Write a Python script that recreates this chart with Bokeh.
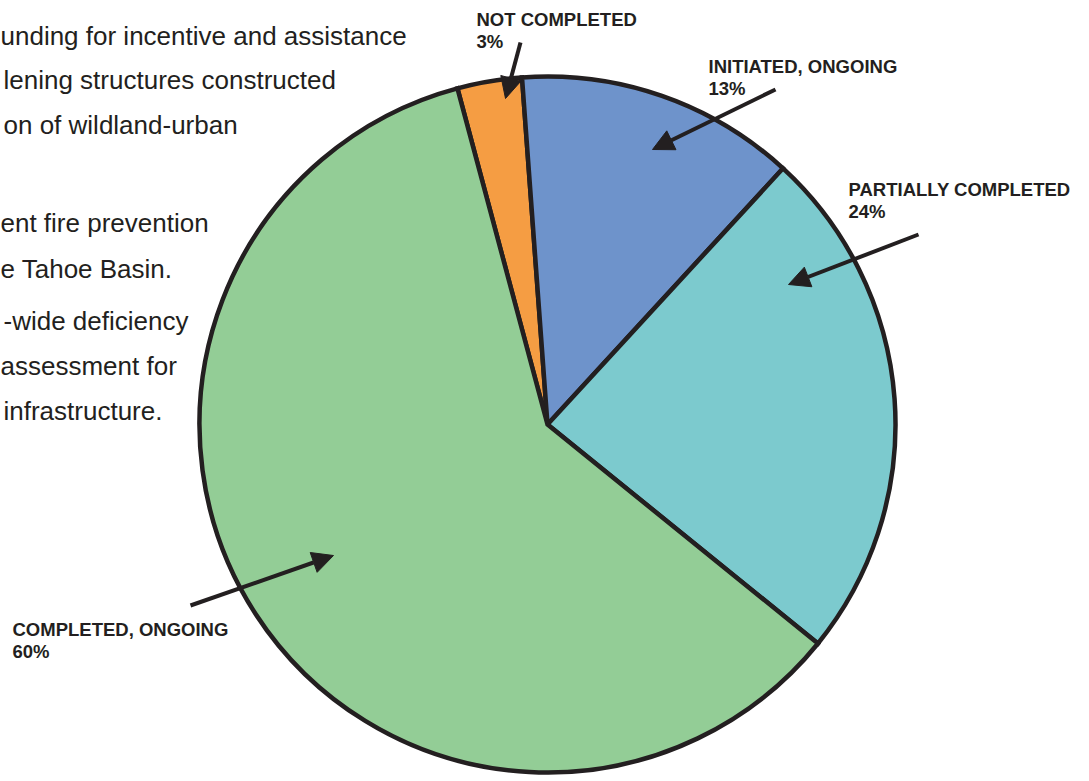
from bokeh.plotting import figure
from bokeh.models import Range1d, Arrow, NormalHead
from bokeh.core.properties import value
from bokeh.embed import file_html
from bokeh.resources import INLINE
import numpy as np

# Status of implementation measures (share of total, %)
statuses = ["NOT COMPLETED", "INITIATED, ONGOING", "PARTIALLY COMPLETED", "COMPLETED, ONGOING"]
shares = [3, 13, 24, 60]
colors = ["#f59d43", "#6e93cb", "#7ccace", "#93cd96"]

# Fragment of the surrounding report text
body_lines = [
    "unding for incentive and assistance",
    "lening structures constructed",
    "on of wildland-urban",
    "ent fire prevention",
    "e Tahoe Basin.",
    "-wide deficiency",
    "assessment for",
    "infrastructure.",
]

W, H = 1089, 781
INK = "#231f20"


def Y(py):
    """Page pixel row -> data y (y grows upward)."""
    return H - py


p = figure(width=W, height=H, output_backend="svg", toolbar_location=None,
           x_range=Range1d(0, W), y_range=Range1d(0, H),
           min_border=0, outline_line_color=None)
p.axis.visible = False
p.grid.visible = False
p.background_fill_color = "white"
p.border_fill_color = "white"

# Pie, drawn clockwise starting a little left of twelve o'clock
cx, cy, r = 547, Y(424), 348
start_cw = -15.0  # degrees, clockwise from top
fr = np.array(shares, dtype=float) / sum(shares)
edges = start_cw + 360.0 * np.concatenate([[0.0], np.cumsum(fr)])
start_ang = np.deg2rad(90.0 - edges[:-1])
end_ang = np.deg2rad(90.0 - edges[1:])

p.wedge(x=cx, y=cy, radius=r, start_angle=start_ang, end_angle=end_ang,
        direction="clock", fill_color=colors, line_color=INK, line_width=4.5,
        line_join="miter")

# Callout labels: name on one line, share beneath
label_pos = [(476, 19), (708, 66), (848, 189), (12, 629)]
lx = [a for a, _ in label_pos]
ly = [Y(b) for _, b in label_pos]
pct = [f"{s}%" for s in shares]
p.text(x=lx, y=ly, text=statuses, text_font=value("Liberation Sans"),
       text_font_style="bold", text_font_size="18.5px", text_color=INK,
       text_baseline="alphabetic", text_align="left")
p.text(x=lx, y=[v - 22 for v in ly], text=pct, text_font=value("Liberation Sans"),
       text_font_style="bold", text_font_size="18.5px", text_color=INK,
       text_baseline="alphabetic", text_align="left")

# Leader arrows
arrows = [((520, 42), (505, 98)),
          ((775, 89), (652, 149)),
          ((918, 234), (788, 284)),
          ((190, 605), (333, 555))]
for (x0, y0), (x1, y1) in arrows:
    p.add_layout(Arrow(x_start=x0, y_start=Y(y0), x_end=x1, y_end=Y(y1),
                       line_color=INK, line_width=4,
                       end=NormalHead(size=21, fill_color=INK, line_color=INK,
                                      line_width=1)))

# Surrounding report text
body_x = [0, 3, 3, 0, 0, 3, 0, 3]
body_base = [35, 79, 124, 222, 268, 320, 365, 410]
p.text(x=body_x, y=[Y(b) for b in body_base], text=body_lines,
       text_font=value("Liberation Sans"), text_font_size="26px",
       text_color=INK, text_baseline="alphabetic", text_align="left")

open("out.html", "w").write(file_html(p, INLINE))
